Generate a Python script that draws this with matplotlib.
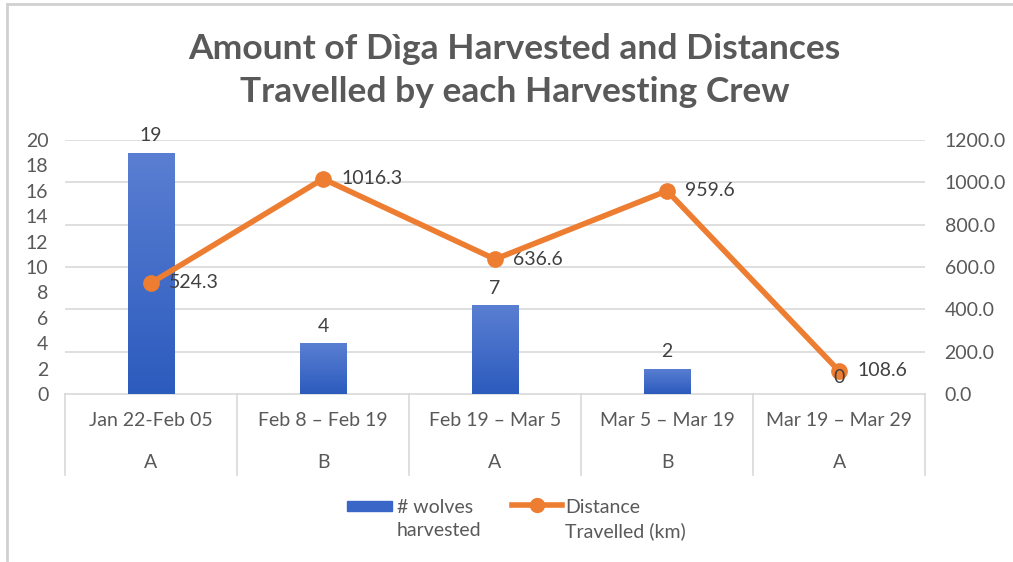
import numpy as np
import matplotlib
matplotlib.use("Agg")
import matplotlib.pyplot as plt
from matplotlib.colors import LinearSegmentedColormap
from matplotlib.lines import Line2D
from matplotlib.patches import Rectangle
from matplotlib.ticker import FormatStrFormatter

periods = ["Jan 22-Feb 05", "Feb 8 \u2013 Feb 19", "Feb 19 \u2013 Mar 5",
           "Mar 5 \u2013 Mar 19", "Mar 19 \u2013 Mar 29"]
crews = ["A", "B", "A", "B", "A"]
wolves = [19, 4, 7, 2, 0]
distance = [524.3, 1016.3, 636.6, 959.6, 108.6]
left_ticks = list(range(0, 21, 2))
right_ticks = [0, 200, 400, 600, 800, 1000, 1200]

plt.rcParams['font.family'] = ['Lato', 'DejaVu Sans']
grey = '#595959'
dark = '#404040'
edge = '#D9D9D9'
blue_top, blue_bot = '#5A7FD2', '#2C5BBE'
orange = '#ED7D31'
fs = 14

fig = plt.figure(figsize=(10.13, 5.62), dpi=100)
ax = fig.add_axes([0.0642, 0.299, 0.849, 0.452])
ax2 = ax.twinx()

x = np.arange(len(periods))
ax.set_xlim(-0.5, len(periods) - 0.5)
ax.set_ylim(0, 20)
ax2.set_ylim(0, 1200)

# gridlines follow the secondary axis, drawn behind the bars
for v in right_ticks[1:]:
    ax.axhline(v / right_ticks[-1] * 20, color=edge, lw=1.2, zorder=0)

bars = ax.bar(x, wolves, width=0.27, color=blue_bot, zorder=2)
cmap = LinearSegmentedColormap.from_list('bar', [blue_bot, blue_top])
grad = np.linspace(0, 1, 256).reshape(-1, 1)
for b in bars:
    if b.get_height() <= 0:
        continue
    x0, y0 = b.get_xy()
    im = ax.imshow(grad, extent=[x0, x0 + b.get_width(), y0, y0 + b.get_height()],
                   origin='lower', cmap=cmap, aspect='auto', zorder=3)
    im.set_clip_path(b)
ax.set_xlim(-0.5, len(periods) - 0.5)
ax.set_ylim(0, 20)

ax2.plot(x, distance, color=orange, lw=4, marker='o', ms=11,
         solid_capstyle='round', zorder=4)
for xi, v in zip(x, distance):
    ax2.annotate(f"{v:.1f}", (xi, v), xytext=(13, 0), textcoords='offset points',
                 ha='left', va='center', fontsize=fs, color=dark)
# bar labels sit on the top axes so the "0" shows over the marker
for xi, v in zip(x, wolves):
    ax2.annotate(str(v), (xi, v), xycoords=ax.transData, xytext=(0, 6),
                 textcoords='offset points', ha='center', va='bottom',
                 fontsize=fs, color=dark, zorder=6)

ax.set_yticks(left_ticks)
ax2.set_yticks(right_ticks)
ax2.yaxis.set_major_formatter(FormatStrFormatter('%.1f'))
ax.tick_params(axis='y', length=0, labelsize=fs, labelcolor=grey, pad=12)
ax2.tick_params(axis='y', length=0, labelsize=fs, labelcolor=grey, pad=14)
ax.set_xticks([])
for a in (ax, ax2):
    for s in a.spines.values():
        s.set_visible(False)

# two-level category axis
tr = ax.get_xaxis_transform()
ax.plot([-0.5, len(periods) - 0.5], [0, 0], transform=tr, color=edge, lw=1.2,
        clip_on=False, zorder=1)
for xs in np.arange(-0.5, len(periods), 1.0):
    ax.plot([xs, xs], [0, -0.32], transform=tr, color=edge, lw=1.2, clip_on=False)
for xi, p, c in zip(x, periods, crews):
    ax.text(xi, -0.106, p, transform=tr, ha='center', va='center', fontsize=fs, color=grey)
    ax.text(xi, -0.268, c, transform=tr, ha='center', va='center', fontsize=fs, color=grey)

fig.text(0.508, 0.875, "Amount of D\u00ecga Harvested and Distances\nTravelled by each Harvesting Crew",
         ha='center', va='center', fontsize=25.5, fontweight='bold', color=grey,
         linespacing=1.42)

# legend
W, H = 1013, 562
fig.patches.append(Rectangle((347 / W, 1 - 511 / H), 45 / W, 10 / H,
                             transform=fig.transFigure, color='#3A66C8'))
fig.text(397 / W, 1 - 499 / H, "# wolves\nharvested", ha='left', va='top',
         fontsize=fs, color=grey, linespacing=1.45, transform=fig.transFigure)
fig.lines.append(Line2D([512 / W, 562 / W], [1 - 505 / H, 1 - 505 / H], color=orange,
                        lw=4, transform=fig.transFigure))
fig.lines.append(Line2D([537 / W], [1 - 505 / H], color=orange, marker='o', ms=10,
                        transform=fig.transFigure))
fig.text(565 / W, 1 - 499 / H, "Distance\nTravelled (km)", ha='left', va='top',
         fontsize=fs, color=grey, linespacing=1.45, transform=fig.transFigure)

# chart frame
fig.lines.append(Line2D([7 / W, 1], [1 - 4 / H, 1 - 4 / H], color='#D0D0D0', lw=2,
                        transform=fig.transFigure))
fig.lines.append(Line2D([7 / W, 7 / W], [1 - 4 / H, 1 - 560 / H], color='#D0D0D0', lw=2,
                        transform=fig.transFigure))

fig.savefig("out.png", dpi=100, facecolor='white')
